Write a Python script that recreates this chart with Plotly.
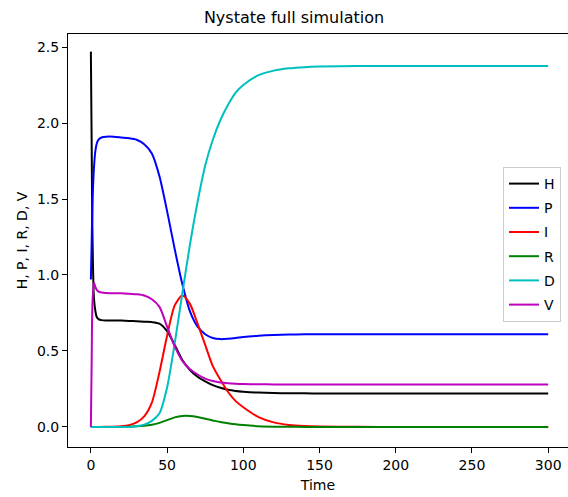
import plotly.graph_objects as go

time = [0, 0.5, 1, 2, 3, 4, 5, 7, 10, 15, 20, 25, 30, 35, 40, 45, 50, 55, 60, 65, 70,
        75, 80, 85, 90, 95, 100, 110, 120, 130, 140, 150, 175, 200, 250, 300]

H = [2.47, 1.9, 1.3, 0.85, 0.76, 0.72, 0.71, 0.703, 0.70, 0.70, 0.70, 0.698, 0.695, 0.692,
     0.69, 0.68, 0.63, 0.54, 0.44, 0.375, 0.33, 0.30, 0.275, 0.258, 0.245, 0.237, 0.232,
     0.226, 0.223, 0.222, 0.221, 0.22, 0.22, 0.22, 0.22, 0.22]
P = [0.97, 1.2, 1.45, 1.7, 1.82, 1.87, 1.89, 1.905, 1.91, 1.91, 1.905, 1.90, 1.89, 1.86,
     1.80, 1.65, 1.42, 1.17, 0.94, 0.76, 0.66, 0.61, 0.585, 0.578, 0.58, 0.585, 0.592,
     0.60, 0.605, 0.608, 0.61, 0.61, 0.61, 0.61, 0.61, 0.61]
I = [0, 0, 0, 0, 0, 0, 0, 0, 0.001, 0.002, 0.005, 0.012, 0.03, 0.07, 0.16, 0.36, 0.60,
     0.80, 0.865, 0.81, 0.68, 0.54, 0.40, 0.31, 0.23, 0.17, 0.13, 0.065, 0.03, 0.013,
     0.006, 0.003, 0.0005, 0, 0, 0]
R = [0, 0, 0, 0, 0, 0, 0, 0, 0, 0, 0, 0.002, 0.004, 0.008, 0.015, 0.027, 0.045, 0.063,
     0.072, 0.072, 0.065, 0.054, 0.043, 0.032, 0.024, 0.017, 0.012, 0.005, 0.002, 0.001,
     0, 0, 0, 0, 0, 0]
D = [0, 0, 0, 0, 0, 0, 0, 0, 0, 0, 0, 0, 0.005, 0.015, 0.04, 0.09, 0.26, 0.55, 0.88,
     1.2, 1.48, 1.72, 1.89, 2.02, 2.12, 2.2, 2.25, 2.315, 2.345, 2.36, 2.368, 2.372,
     2.375, 2.375, 2.375, 2.375]
V = [0, 0.4, 0.8, 0.95, 0.92, 0.90, 0.89, 0.885, 0.882, 0.88, 0.88, 0.877, 0.873, 0.865,
     0.84, 0.79, 0.66, 0.53, 0.435, 0.38, 0.345, 0.318, 0.302, 0.292, 0.287, 0.284,
     0.282, 0.281, 0.28, 0.28, 0.28, 0.28, 0.28, 0.28, 0.28, 0.28]

series = [("H", H, "#000000"), ("P", P, "#0000ff"), ("I", I, "#ff0000"),
          ("R", R, "#008000"), ("D", D, "#00bfbf"), ("V", V, "#bf00bf")]

fig = go.Figure()
for name, vals, col in series:
    fig.add_trace(go.Scatter(x=time, y=vals, mode="lines", name=name, legendgroup=name,
                             line=dict(color=col, width=2, shape="spline", smoothing=0.7)))

W, Hh = 568, 497
ml, mr, mt, mb = 68, 0, 34, 50
pw = W - ml - mr
ph = Hh - mt - mb
fig.update_layout(
    width=W, height=Hh,
    margin=dict(l=ml, r=mr, t=mt, b=mb, autoexpand=False),
    paper_bgcolor="white", plot_bgcolor="white",
    font=dict(family="DejaVu Sans", size=14, color="black"),
    title=dict(text="Nystate full simulation", x=294 / W, xanchor="center",
               y=1 - 17 / Hh, yanchor="middle", font=dict(size=16)),
    legend=dict(x=(503 - ml) / pw, xanchor="left",
                y=1 - (167 - mt) / ph, yanchor="top",
                bordercolor="#cccccc", borderwidth=1, bgcolor="rgba(255,255,255,0.8)",
                tracegroupgap=3, traceorder="grouped", font=dict(size=14)),
    showlegend=True,
)
fig.update_xaxes(range=[-15, 313], showgrid=False, zeroline=False, showline=True,
                 linecolor="black", linewidth=1, mirror=True, ticks="outside",
                 ticklen=5, tickcolor="black", tickvals=[0, 50, 100, 150, 200, 250, 300],
                 tickfont=dict(size=14),
                 automargin=False, title=dict(text="Time", standoff=8, font=dict(size=14)))
fig.update_yaxes(range=[-0.132, 2.586], showgrid=False, zeroline=False, showline=True,
                 linecolor="black", linewidth=1, mirror=False, ticks="outside",
                 ticklen=5, tickcolor="black",
                 tickvals=[0, 0.5, 1.0, 1.5, 2.0, 2.5],
                 ticktext=["0.0", "0.5", "1.0", "1.5", "2.0", "2.5"],
                 tickfont=dict(size=14),
                 automargin=False,
                 title=dict(text="H, P, I, R, D, V", standoff=6, font=dict(size=14)))

fig.write_html("out.html", config={"displayModeBar": False},
               post_script="document.body.style.margin='0';document.body.style.overflow='hidden';")
